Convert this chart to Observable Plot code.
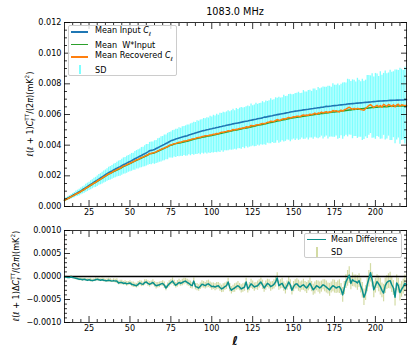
<!DOCTYPE html>
<html><head><meta charset="utf-8">
<script src="https://cdn.jsdelivr.net/npm/d3@7"></script>
<script src="https://cdn.jsdelivr.net/npm/@observablehq/plot@0.6"></script>
<style>
body{margin:0;background:#fff;}
#c{position:relative;width:415px;height:356px;font-family:"DejaVu Sans",sans-serif;color:#000;overflow:hidden;background:#fff}
#c svg{position:absolute;left:0;overflow:visible}
.t{position:absolute;white-space:nowrap;font-size:8.1px;line-height:1}
.rot{transform:translate(-50%,-50%) rotate(-90deg)}
.leg{position:absolute;border:0.8px solid #cccccc;border-radius:2px;background:rgba(255,255,255,0.8);box-sizing:border-box}
.sw{position:absolute;height:1.6px}
.vb{position:absolute;width:1.6px}
.ss{display:inline-block;vertical-align:-0.45em;font-size:0.7em;line-height:1.05;text-align:left}
.ss span{display:block}
</style></head><body><div id="c"></div>
<script>
const inputCl = [0.00042,0.00048,0.00054,0.00060,0.00066,0.00072,0.00078,0.00084,0.00090,0.00096,
0.00102,0.00109,0.00116,0.00123,0.00130,0.00137,0.00144,0.00151,0.00158,0.00165,
0.00172,0.00179,0.00186,0.00193,0.00200,0.00207,0.00214,0.00221,0.00227,0.00232,
0.00238,0.00244,0.00249,0.00255,0.00260,0.00266,0.00272,0.00277,0.00283,0.00288,
0.00293,0.00299,0.00305,0.00311,0.00316,0.00322,0.00328,0.00333,0.00339,0.00344,
0.00350,0.00356,0.00364,0.00366,0.00368,0.00372,0.00378,0.00383,0.00389,0.00394,
0.00400,0.00405,0.00411,0.00416,0.00422,0.00428,0.00432,0.00436,0.00440,0.00443,
0.00447,0.00450,0.00453,0.00456,0.00459,0.00462,0.00466,0.00469,0.00473,0.00476,
0.00480,0.00483,0.00486,0.00489,0.00492,0.00495,0.00497,0.00500,0.00502,0.00505,
0.00507,0.00510,0.00512,0.00515,0.00517,0.00520,0.00522,0.00525,0.00527,0.00530,
0.00532,0.00534,0.00536,0.00539,0.00541,0.00543,0.00545,0.00547,0.00550,0.00552,
0.00554,0.00556,0.00558,0.00561,0.00563,0.00565,0.00567,0.00569,0.00572,0.00574,
0.00576,0.00578,0.00583,0.00583,0.00586,0.00588,0.00590,0.00592,0.00595,0.00597,
0.00599,0.00601,0.00603,0.00605,0.00607,0.00609,0.00611,0.00613,0.00616,0.00618,
0.00620,0.00622,0.00623,0.00625,0.00626,0.00628,0.00630,0.00631,0.00633,0.00634,
0.00636,0.00638,0.00639,0.00641,0.00642,0.00644,0.00645,0.00647,0.00648,0.00650,
0.00653,0.00652,0.00654,0.00655,0.00657,0.00658,0.00659,0.00660,0.00662,0.00663,
0.00664,0.00665,0.00666,0.00668,0.00669,0.00670,0.00671,0.00672,0.00673,0.00674,
0.00675,0.00676,0.00677,0.00678,0.00679,0.00680,0.00681,0.00682,0.00683,0.00684,
0.00685,0.00686,0.00687,0.00688,0.00688,0.00689,0.00690,0.00690,0.00691,0.00692,
0.00692,0.00693,0.00693,0.00694,0.00694,0.00695,0.00695,0.00695,0.00696,0.00696];

const wInputCl = [0.00040,0.00046,0.00052,0.00057,0.00063,0.00069,0.00075,0.00081,0.00086,0.00092,
0.00098,0.00105,0.00111,0.00118,0.00125,0.00132,0.00138,0.00145,0.00152,0.00158,
0.00164,0.00171,0.00178,0.00184,0.00191,0.00198,0.00205,0.00211,0.00217,0.00222,
0.00227,0.00233,0.00238,0.00243,0.00248,0.00254,0.00260,0.00265,0.00270,0.00275,
0.00280,0.00285,0.00291,0.00296,0.00301,0.00306,0.00311,0.00316,0.00321,0.00326,
0.00331,0.00336,0.00344,0.00345,0.00347,0.00350,0.00355,0.00360,0.00365,0.00370,
0.00375,0.00379,0.00385,0.00389,0.00395,0.00400,0.00403,0.00407,0.00410,0.00413,
0.00414,0.00416,0.00419,0.00421,0.00424,0.00426,0.00429,0.00432,0.00435,0.00438,
0.00441,0.00444,0.00446,0.00449,0.00451,0.00454,0.00455,0.00458,0.00459,0.00462,
0.00463,0.00466,0.00468,0.00471,0.00473,0.00476,0.00478,0.00481,0.00483,0.00486,
0.00488,0.00490,0.00492,0.00495,0.00497,0.00499,0.00501,0.00503,0.00506,0.00508,
0.00510,0.00512,0.00514,0.00517,0.00519,0.00521,0.00523,0.00526,0.00529,0.00531,
0.00533,0.00535,0.00538,0.00540,0.00543,0.00546,0.00548,0.00550,0.00553,0.00555,
0.00557,0.00559,0.00561,0.00564,0.00566,0.00568,0.00570,0.00572,0.00575,0.00577,
0.00579,0.00581,0.00582,0.00584,0.00585,0.00587,0.00589,0.00590,0.00592,0.00593,
0.00595,0.00597,0.00598,0.00600,0.00601,0.00603,0.00604,0.00606,0.00607,0.00609,
0.00610,0.00611,0.00613,0.00614,0.00616,0.00617,0.00618,0.00620,0.00622,0.00623,
0.00624,0.00625,0.00626,0.00628,0.00629,0.00630,0.00632,0.00633,0.00634,0.00635,
0.00636,0.00637,0.00638,0.00639,0.00640,0.00641,0.00643,0.00644,0.00645,0.00646,
0.00647,0.00648,0.00649,0.00650,0.00650,0.00650,0.00651,0.00651,0.00652,0.00653,
0.00653,0.00654,0.00654,0.00655,0.00655,0.00655,0.00655,0.00655,0.00656,0.00656];

const recoveredCl = [0.00040,0.00047,0.00051,0.00057,0.00064,0.00069,0.00074,0.00082,0.00086,0.00091,
0.00099,0.00105,0.00110,0.00119,0.00125,0.00131,0.00139,0.00145,0.00153,0.00157,
0.00165,0.00173,0.00178,0.00185,0.00193,0.00198,0.00206,0.00213,0.00217,0.00223,
0.00230,0.00234,0.00240,0.00246,0.00249,0.00256,0.00264,0.00266,0.00272,0.00278,
0.00282,0.00288,0.00292,0.00298,0.00305,0.00307,0.00313,0.00319,0.00322,0.00328,
0.00334,0.00337,0.00346,0.00346,0.00350,0.00352,0.00356,0.00363,0.00367,0.00373,
0.00377,0.00382,0.00386,0.00391,0.00399,0.00401,0.00405,0.00410,0.00411,0.00415,
0.00419,0.00419,0.00423,0.00427,0.00427,0.00430,0.00434,0.00435,0.00441,0.00442,
0.00444,0.00449,0.00450,0.00451,0.00456,0.00458,0.00461,0.00461,0.00463,0.00467,
0.00467,0.00472,0.00471,0.00476,0.00475,0.00480,0.00485,0.00484,0.00488,0.00490,
0.00494,0.00493,0.00496,0.00502,0.00499,0.00504,0.00505,0.00509,0.00509,0.00513,
0.00511,0.00520,0.00518,0.00519,0.00529,0.00526,0.00526,0.00532,0.00533,0.00533,
0.00538,0.00542,0.00540,0.00544,0.00549,0.00549,0.00556,0.00555,0.00554,0.00561,
0.00567,0.00563,0.00563,0.00569,0.00573,0.00571,0.00576,0.00581,0.00577,0.00581,
0.00585,0.00584,0.00589,0.00588,0.00586,0.00593,0.00597,0.00593,0.00597,0.00595,
0.00602,0.00599,0.00603,0.00609,0.00601,0.00609,0.00608,0.00616,0.00610,0.00615,
0.00618,0.00612,0.00618,0.00616,0.00626,0.00621,0.00625,0.00619,0.00616,0.00629,
0.00622,0.00631,0.00635,0.00642,0.00647,0.00640,0.00634,0.00640,0.00634,0.00640,
0.00637,0.00633,0.00630,0.00627,0.00639,0.00649,0.00659,0.00664,0.00655,0.00646,
0.00653,0.00660,0.00650,0.00659,0.00648,0.00666,0.00659,0.00653,0.00665,0.00660,
0.00653,0.00664,0.00650,0.00662,0.00667,0.00654,0.00663,0.00661,0.00658,0.00661];

const sdCl = [0.00009,0.00011,0.00012,0.00013,0.00015,0.00016,0.00017,0.00019,0.00020,0.00021,
0.00022,0.00023,0.00024,0.00026,0.00027,0.00027,0.00029,0.00030,0.00031,0.00033,
0.00034,0.00035,0.00036,0.00038,0.00039,0.00040,0.00041,0.00043,0.00044,0.00045,
0.00046,0.00047,0.00048,0.00050,0.00051,0.00052,0.00053,0.00054,0.00055,0.00055,
0.00055,0.00058,0.00056,0.00061,0.00060,0.00063,0.00062,0.00066,0.00064,0.00068,
0.00070,0.00068,0.00072,0.00074,0.00071,0.00077,0.00075,0.00079,0.00078,0.00082,
0.00080,0.00084,0.00081,0.00086,0.00083,0.00085,0.00090,0.00087,0.00092,0.00089,
0.00094,0.00091,0.00097,0.00095,0.00099,0.00101,0.00097,0.00104,0.00102,0.00107,
0.00104,0.00110,0.00106,0.00113,0.00109,0.00116,0.00112,0.00118,0.00114,0.00121,
0.00117,0.00123,0.00119,0.00126,0.00120,0.00128,0.00122,0.00130,0.00124,0.00127,
0.00131,0.00125,0.00129,0.00133,0.00126,0.00135,0.00128,0.00132,0.00136,0.00129,
0.00134,0.00130,0.00137,0.00132,0.00139,0.00131,0.00136,0.00141,0.00133,0.00138,
0.00135,0.00142,0.00137,0.00144,0.00136,0.00140,0.00146,0.00138,0.00143,0.00148,
0.00139,0.00150,0.00144,0.00141,0.00152,0.00146,0.00143,0.00149,0.00155,0.00147,
0.00145,0.00153,0.00149,0.00157,0.00151,0.00146,0.00159,0.00154,0.00150,0.00162,
0.00156,0.00152,0.00164,0.00158,0.00155,0.00167,0.00160,0.00157,0.00170,0.00163,
0.00159,0.00172,0.00166,0.00162,0.00175,0.00170,0.00165,0.00180,0.00172,0.00168,
0.00183,0.00176,0.00171,0.00188,0.00180,0.00175,0.00192,0.00184,0.00178,0.00196,
0.00186,0.00181,0.00200,0.00190,0.00185,0.00205,0.00195,0.00188,0.00210,0.00199,
0.00215,0.00204,0.00198,0.00220,0.00208,0.00202,0.00225,0.00213,0.00206,0.00229,
0.00222,0.00215,0.00240,0.00228,0.00220,0.00248,0.00232,0.00226,0.00250,0.00238];

const meanDiff = [-0.00001,-0.00001,-0.00002,-0.00002,-0.00001,-0.00002,-0.00003,-0.00004,-0.00005,-0.00006,
-0.00006,-0.00007,-0.00006,-0.00007,-0.00008,-0.00007,-0.00008,-0.00009,-0.00008,-0.00007,
-0.00006,-0.00007,-0.00008,-0.00007,-0.00008,-0.00009,-0.00009,-0.00008,-0.00009,-0.00010,
-0.00009,-0.00010,-0.00010,-0.00014,-0.00013,-0.00013,-0.00015,-0.00014,-0.00016,-0.00015,
-0.00014,-0.00017,-0.00018,-0.00019,-0.00020,-0.00017,-0.00014,-0.00016,-0.00017,-0.00013,
-0.00012,-0.00015,-0.00017,-0.00015,-0.00013,-0.00017,-0.00020,-0.00019,-0.00018,-0.00016,
-0.00015,-0.00019,-0.00025,-0.00020,-0.00016,-0.00013,-0.00010,-0.00015,-0.00019,-0.00016,
-0.00013,-0.00015,-0.00013,-0.00011,-0.00010,-0.00013,-0.00015,-0.00018,-0.00020,-0.00010,
-0.00022,-0.00023,-0.00025,-0.00021,-0.00017,-0.00018,-0.00020,-0.00017,-0.00016,-0.00019,
-0.00022,-0.00021,-0.00023,-0.00021,-0.00020,-0.00024,-0.00027,-0.00025,-0.00022,-0.00020,
-0.00012,-0.00024,-0.00030,-0.00027,-0.00025,-0.00022,-0.00020,-0.00023,-0.00027,-0.00025,
-0.00023,-0.00012,-0.00027,-0.00022,-0.00016,-0.00019,-0.00023,-0.00021,-0.00020,-0.00016,
-0.00012,-0.00018,-0.00025,-0.00020,-0.00015,-0.00017,-0.00022,-0.00020,-0.00017,-0.00012,
-0.00003,-0.00020,-0.00017,-0.00015,-0.00022,-0.00027,-0.00020,-0.00012,-0.00018,-0.00030,
-0.00022,-0.00017,-0.00016,-0.00020,-0.00023,-0.00020,-0.00018,-0.00022,-0.00025,-0.00020,
-0.00015,-0.00022,-0.00029,-0.00025,-0.00020,-0.00022,-0.00025,-0.00022,-0.00018,-0.00020,
-0.00023,-0.00026,-0.00029,-0.00024,-0.00020,-0.00022,-0.00025,-0.00023,-0.00022,-0.00028,
-0.00040,-0.00025,-0.00011,-0.00004,0.00003,-0.00015,-0.00007,-0.00010,-0.00011,-0.00014,
-0.00009,-0.00020,-0.00030,-0.00045,-0.00036,-0.00018,-0.00005,0.00008,-0.00007,-0.00029,
-0.00020,-0.00011,-0.00016,-0.00022,-0.00030,-0.00036,-0.00020,-0.00013,-0.00010,-0.00009,
-0.00018,-0.00025,-0.00045,-0.00014,-0.00020,-0.00035,-0.00028,-0.00022,-0.00015,-0.00018];

const sdDiff = [0.00002,0.00002,0.00002,0.00002,0.00003,0.00002,0.00003,0.00003,0.00002,0.00003,
0.00003,0.00003,0.00002,0.00003,0.00003,0.00003,0.00004,0.00003,0.00003,0.00004,
0.00003,0.00004,0.00003,0.00004,0.00004,0.00003,0.00004,0.00004,0.00004,0.00003,
0.00004,0.00004,0.00005,0.00004,0.00005,0.00005,0.00004,0.00005,0.00005,0.00004,
0.00005,0.00005,0.00006,0.00005,0.00005,0.00006,0.00005,0.00006,0.00005,0.00006,
0.00005,0.00006,0.00006,0.00005,0.00006,0.00006,0.00007,0.00006,0.00006,0.00005,
0.00006,0.00007,0.00006,0.00006,0.00007,0.00006,0.00007,0.00007,0.00006,0.00007,
0.00007,0.00006,0.00007,0.00007,0.00006,0.00007,0.00007,0.00008,0.00007,0.00007,
0.00007,0.00008,0.00007,0.00007,0.00008,0.00007,0.00007,0.00008,0.00008,0.00007,
0.00008,0.00007,0.00008,0.00008,0.00007,0.00008,0.00008,0.00009,0.00008,0.00008,
0.00008,0.00009,0.00008,0.00008,0.00009,0.00008,0.00009,0.00008,0.00009,0.00009,
0.00009,0.00008,0.00009,0.00009,0.00010,0.00009,0.00009,0.00008,0.00010,0.00009,
0.00009,0.00010,0.00009,0.00010,0.00009,0.00010,0.00010,0.00009,0.00010,0.00011,
0.00011,0.00010,0.00010,0.00011,0.00010,0.00011,0.00010,0.00011,0.00011,0.00010,
0.00011,0.00010,0.00011,0.00012,0.00011,0.00010,0.00012,0.00011,0.00012,0.00011,
0.00012,0.00011,0.00012,0.00013,0.00011,0.00012,0.00013,0.00012,0.00011,0.00013,
0.00013,0.00012,0.00014,0.00012,0.00013,0.00014,0.00012,0.00013,0.00015,0.00013,
0.00016,0.00014,0.00015,0.00017,0.00018,0.00014,0.00015,0.00013,0.00014,0.00016,
0.00015,0.00016,0.00017,0.00018,0.00016,0.00015,0.00018,0.00020,0.00016,0.00017,
0.00016,0.00015,0.00017,0.00018,0.00016,0.00019,0.00017,0.00015,0.00016,0.00018,
0.00017,0.00016,0.00019,0.00017,0.00016,0.00018,0.00017,0.00016,0.00018,0.00017];

const ell = d3.range(10, 220); // multipoles 10..219

const xMajor = [25, 50, 75, 100, 125, 150, 175, 200];
const xMinor = [15,20,30,35,40,45,55,60,65,70,80,85,90,95,105,110,115,120,130,135,140,145,155,160,165,170,180,185,190,195,205,210,215];
const yMajorTop = [0, 0.002, 0.004, 0.006, 0.008, 0.010, 0.012];
const yMinorTop = [0.0005,0.001,0.0015,0.0025,0.003,0.0035,0.0045,0.005,0.0055,0.0065,0.007,0.0075,0.0085,0.009,0.0095,0.0105,0.011,0.0115];
const yMajorBot = [-0.001, -0.0005, 0, 0.0005, 0.001];
const yMinorBot = [-0.0009,-0.0008,-0.0007,-0.0006,-0.0004,-0.0003,-0.0002,-0.0001,0.0001,0.0002,0.0003,0.0004,0.0006,0.0007,0.0008,0.0009];

const rows = ell.map((l, i) => ({
  ell: l, input: inputCl[i], wInput: wInputCl[i], rec: recoveredCl[i],
  sd: sdCl[i], diff: meanDiff[i], dsd: sdDiff[i]
}));

const noText = () => "";
function inTicks(xMaj, xMin, yMaj, yMin) {
  const o = {tickFormat: noText, label: null, strokeWidth: 0.8};
  return [
    Plot.axisX(xMaj, {...o, anchor: "bottom", tickSize: -6}),
    Plot.axisX(xMaj, {...o, anchor: "top", tickSize: -6}),
    Plot.axisX(xMin, {...o, anchor: "bottom", tickSize: -3}),
    Plot.axisX(xMin, {...o, anchor: "top", tickSize: -3}),
    Plot.axisY(yMaj, {...o, anchor: "left", tickSize: -6}),
    Plot.axisY(yMaj, {...o, anchor: "right", tickSize: -6}),
    Plot.axisY(yMin, {...o, anchor: "left", tickSize: -3}),
    Plot.axisY(yMin, {...o, anchor: "right", tickSize: -3})
  ];
}
const plotStyle = {fontFamily: "DejaVu Sans, sans-serif", fontSize: "8.1px", color: "black", background: "transparent", overflow: "visible"};

const topPlot = Plot.plot({
  width: 415, height: 222,
  marginLeft: 64, marginRight: 9, marginTop: 22, marginBottom: 16,
  style: plotStyle,
  x: {domain: [10, 219]},
  y: {domain: [0, 0.012]},
  marks: [
    Plot.ruleX(rows, {x: "ell", y1: d => d.rec - d.sd, y2: d => d.rec + d.sd, stroke: "#00ffff", strokeOpacity: 0.5, strokeWidth: 1.3, clip: true}),
    Plot.line(rows, {x: "ell", y: "input", stroke: "#1f77b4", strokeWidth: 1.6}),
    Plot.line(rows, {x: "ell", y: "wInput", stroke: "#2ca02c", strokeWidth: 1.5}),
    Plot.line(rows, {x: "ell", y: "rec", stroke: "#ff7f0e", strokeWidth: 1.5}),
    Plot.axisX(xMajor, {anchor: "bottom", tickSize: 0, tickPadding: 3, label: null}),
    Plot.axisY(yMajorTop, {anchor: "left", tickSize: 0, tickPadding: 3, tickFormat: d3.format(".3f"), label: null}),
    ...inTicks(xMajor, xMinor, yMajorTop, yMinorTop),
    Plot.frame({stroke: "black", strokeWidth: 0.8})
  ]
});
topPlot.style.top = "0px";

const botPlot = Plot.plot({
  width: 415, height: 134,
  marginLeft: 64, marginRight: 9, marginTop: 8, marginBottom: 34,
  style: plotStyle,
  x: {domain: [10, 219]},
  y: {domain: [-0.001, 0.001]},
  marks: [
    Plot.ruleX(rows, {x: "ell", y1: d => d.diff - d.dsd, y2: d => d.diff + d.dsd, stroke: "#a8b84a", strokeOpacity: 0.5, strokeWidth: 1.2, clip: true}),
    Plot.ruleY([0], {stroke: "black", strokeWidth: 1.5}),
    Plot.line(rows, {x: "ell", y: "diff", stroke: "#0a8f8c", strokeWidth: 1.5}),
    Plot.axisX(xMajor, {anchor: "bottom", tickSize: 0, tickPadding: 3, label: null}),
    Plot.axisY(yMajorBot, {anchor: "left", tickSize: 0, tickPadding: 3, tickFormat: d3.format(".4f"), label: null}),
    ...inTicks(xMajor, xMinor, yMajorBot, yMinorBot),
    Plot.frame({stroke: "black", strokeWidth: 0.8})
  ]
});
botPlot.style.top = "222px";

const box = document.getElementById("c");
box.appendChild(topPlot);
box.appendChild(botPlot);

function add(html, css, cls = "t") {
  const d = document.createElement("div");
  d.className = cls;
  d.innerHTML = html;
  Object.assign(d.style, css);
  box.appendChild(d);
  return d;
}
// title
add("1083.0 MHz", {left: "235px", top: "12px", fontSize: "9.7px", transform: "translate(-50%,-50%)"});
// y labels
const ssTT = '<span class="ss"><span>TT</span><span><i>ℓ</i></span></span>';
add('<i>ℓ</i>(<i>ℓ</i> + 1)<i>C</i>' + ssTT + '/(2<i>π</i>)(mK<sup style="font-size:0.7em">2</sup>)',
    {left: "31px", top: "114px"}, "t rot");
add('<i>ℓ</i>(<i>ℓ</i> + 1)Δ<i>C</i>' + ssTT + '/(2<i>π</i>)(mK<sup style="font-size:0.7em">2</sup>)',
    {left: "17px", top: "276px"}, "t rot");
// x label
add("<i>ℓ</i>", {left: "235px", top: "341px", fontSize: "12px", fontWeight: "bold", transform: "translate(-50%,-50%)"});

// top legend
add("", {left: "68px", top: "25px", width: "109px", height: "51px"}, "leg");
const legTop = [
  {y: 32, color: "#1f77b4", html: 'Mean Input <i>C</i><sub style="font-size:0.7em"><i>ℓ</i></sub>'},
  {y: 44.7, color: "#2ca02c", html: 'Mean&nbsp;&nbsp;W*Input'},
  {y: 57, color: "#ff7f0e", html: 'Mean Recovered <i>C</i><sub style="font-size:0.7em"><i>ℓ</i></sub>'}
];
legTop.forEach(e => {
  add("", {left: "71px", top: (e.y - 0.8) + "px", width: "17px", background: e.color}, "sw");
  add(e.html, {left: "95px", top: e.y + "px", transform: "translateY(-50%)"});
});
add("", {left: "79px", top: "65px", height: "9px", background: "#00ffff", opacity: "0.5"}, "vb");
add("SD", {left: "95px", top: "69.5px", transform: "translateY(-50%)"});

// bottom legend
add("", {left: "304px", top: "233px", width: "98px", height: "25px"}, "leg");
add("", {left: "307px", top: "238.5px", width: "19px", background: "#0a8f8c"}, "sw");
add("Mean Difference", {left: "331px", top: "239.3px", transform: "translateY(-50%)"});
add("", {left: "316px", top: "247px", height: "10px", background: "#a8b84a", opacity: "0.5"}, "vb");
add("SD", {left: "331px", top: "252.3px", transform: "translateY(-50%)"});
</script></body></html>
